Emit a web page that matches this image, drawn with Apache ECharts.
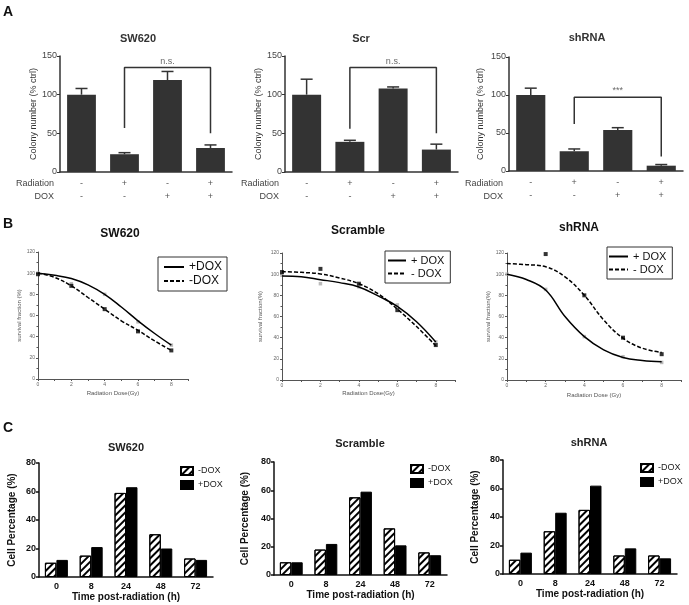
<!DOCTYPE html>
<html><head><meta charset="utf-8">
<script src="https://cdn.jsdelivr.net/npm/echarts@6/dist/echarts.min.js"></script>
<style>html,body{margin:0;padding:0;background:#fff}#c{width:689px;height:605px}</style>
</head><body><div id="c"></div>
<script>
// ---------- Panel A data ----------
const aRadiation = ['-', '+', '-', '+'];
const aDox = ['-', '-', '+', '+'];
const aSW620 = [100, 23, 119, 31];
const aSW620Upper = [108, 25, 130, 35];
const aScr = [100, 39, 108, 29];
const aScrUpper = [120, 41, 110, 36];
const aShRNA = [100, 26, 54, 7];
const aShRNAUpper = [109, 29, 57, 8.5];
// bracket: [left leg bottom, top, right leg bottom]
const aSW620Bracket = [57, 135, 50];
const aScrBracket = [56, 135, 50];
const aShRNABracket = [62, 97, 19];
const aSW620Sig = 'n.s.';
const aScrSig = 'n.s.';
const aShRNASig = '***';

// ---------- Panel B data ----------
const bDose = [0, 2, 4, 6, 8];
const bCurveDose = [0, 1, 2, 3, 4, 5, 6, 7, 8];
const bSW620PlusPts = [100, 90, 80, 54, 32];
const bSW620MinusPts = [99, 88, 66, 45, 27];
const bSW620PlusFit = [100, 98, 95, 89, 80, 68, 55, 43, 32];
const bSW620MinusFit = [100, 96, 88, 77, 66, 55, 46, 36, 27];
const bScrPlusPts = [99, 91, 88, 71, 36];
const bScrMinusPts = [102, 105, 91, 66, 33];
const bScrPlusFit = [98.3, 97.5, 94.8, 92, 87.9, 79.5, 69.5, 55, 35.9];
const bScrMinusFit = [102.3, 101.7, 100.2, 96.4, 91, 81.5, 67, 50.5, 32.4];
const bShPlusPts = [100, 85.6, 41, 22, 16.6];
const bShMinusPts = [null, 119, 80, 40, 24.4];
const bShPlusFit = [100, 95, 85, 60, 41, 28.5, 21.3, 18.5, 17.2];
const bShMinusFit = [110, 109, 107, 97.5, 80, 56.7, 39.5, 30, 26];

// ---------- Panel C data ----------
const cTimes = ['0', '8', '24', '48', '72'];
const cSW620Minus = [10, 15, 59, 30, 13];
const cSW620Plus = [12, 21, 63, 20, 12];
const cScrMinus = [9, 18, 55, 33, 16];
const cScrPlus = [9, 22, 59, 21, 14];
const cShMinus = [10, 30, 45, 13, 13];
const cShPlus = [15, 43, 62, 18, 11];

const FONT = "'Liberation Sans', Arial, sans-serif";
const grids = [], xAxes = [], yAxes = [], series = [], legends = [], graphics = [];
const nameMap = {};

function errRender(params, api) {
  const base = api.coord([api.value(0), api.value(1)]);
  const top = api.coord([api.value(0), api.value(2)]);
  const hw = 6;
  return { type: 'group', children: [
    { type: 'line', shape: { x1: base[0], y1: base[1], x2: top[0], y2: top[1] }, style: { stroke: '#333', lineWidth: 1.5 } },
    { type: 'line', shape: { x1: top[0] - hw, y1: top[1], x2: top[0] + hw, y2: top[1] }, style: { stroke: '#333', lineWidth: 1.5 } }
  ]};
}

function addA(box, vals, upper, bracket, sig, nameGap) {
  const idx = grids.length;
  grids.push({ left: box[0], top: box[1], width: box[2], height: box[3] });
  xAxes.push({ gridIndex: idx, type: 'category', data: aRadiation.map((r, i) => r + '\n' + aDox[i]),
    axisLine: { lineStyle: { color: '#333', width: 1.5 } },
    axisTick: { alignWithLabel: true, length: 3, lineStyle: { color: '#333' } },
    axisLabel: { fontSize: 9, lineHeight: 13, color: '#555', margin: 5, fontFamily: FONT } });
  yAxes.push({ gridIndex: idx, type: 'value', min: 0, max: 150, interval: 50,
    name: 'Colony number (% ctrl)', nameLocation: 'middle', nameGap: nameGap,
    nameTextStyle: { fontSize: 9, color: '#333', fontFamily: FONT },
    axisLine: { show: true, lineStyle: { color: '#333', width: 1.5 } },
    axisTick: { show: true, length: 3, lineStyle: { color: '#333' } },
    axisLabel: { fontSize: 9, color: '#444', margin: 3, fontFamily: FONT },
    splitLine: { show: false } });
  series.push({ type: 'bar', xAxisIndex: idx, yAxisIndex: idx, data: vals, barCategoryGap: '33%', itemStyle: { color: '#333' } });
  series.push({ type: 'custom', xAxisIndex: idx, yAxisIndex: idx, data: vals.map((v, i) => [i, v, upper[i]]), renderItem: errRender, z: 3 });
  series.push({ type: 'line', xAxisIndex: idx, yAxisIndex: idx, symbol: 'none',
    data: [[1, bracket[0]], [1, bracket[1]], [3, bracket[1]], [3, bracket[2]]],
    lineStyle: { color: '#333', width: 1.5 } });
  series.push({ type: 'scatter', xAxisIndex: idx, yAxisIndex: idx, data: [[2, bracket[1]]], symbolSize: 0.1,
    itemStyle: { color: 'transparent' },
    label: { show: true, position: 'top', distance: 2, formatter: sig, fontSize: 9, color: '#444', fontFamily: FONT } });
}

function addB(box, plusPts, minusPts, plusFit, minusFit, plusName, minusName, key, nameGapY, nameGapX, legendBox) {
  const idx = grids.length;
  grids.push({ left: box[0], top: box[1], width: box[2], height: box[3] });
  xAxes.push({ gridIndex: idx, type: 'value', min: 0, max: 9, interval: 1,
    name: key === 'b3' ? 'Radiation Dose (Gy)' : 'Radiation Dose(Gy)', nameLocation: 'middle', nameGap: nameGapX,
    nameTextStyle: { fontSize: 6, color: '#555', fontFamily: FONT },
    axisLine: { lineStyle: { color: '#555', width: 1 } },
    axisTick: { length: 2, lineStyle: { color: '#555' } },
    axisLabel: { fontSize: 5, color: '#666', margin: 3, fontFamily: FONT, formatter: v => (v % 2 === 0 && v < 9) ? String(v) : '' },
    splitLine: { show: false } });
  yAxes.push({ gridIndex: idx, type: 'value', min: 0, max: 120, interval: 20,
    name: key === 'b1' ? 'survival fraction (%)' : 'survival fraction(%)', nameLocation: 'middle', nameGap: nameGapY,
    nameTextStyle: { fontSize: 6, color: '#555', fontFamily: FONT },
    axisLine: { show: true, lineStyle: { color: '#555', width: 1 } },
    axisTick: { show: true, length: 2, lineStyle: { color: '#555' } },
    minorTick: { show: true, splitNumber: 2, length: 1.5, lineStyle: { color: '#555' } },
    axisLabel: { fontSize: 5, color: '#666', margin: 3, fontFamily: FONT },
    splitLine: { show: false } });
  const pN = key + 'p', mN = key + 'm';
  nameMap[pN] = plusName; nameMap[mN] = minusName;
  series.push({ type: 'line', name: pN, xAxisIndex: idx, yAxisIndex: idx, smooth: 0.4, symbol: 'none',
    data: bCurveDose.map((d, i) => [d, plusFit[i]]), lineStyle: { color: '#000', width: 1.5 }, itemStyle: { color: '#000' } });
  series.push({ type: 'line', name: mN, xAxisIndex: idx, yAxisIndex: idx, smooth: 0.4, symbol: 'none',
    data: bCurveDose.map((d, i) => [d, minusFit[i]]), lineStyle: { color: '#000', width: 1.5, type: [4, 2] }, itemStyle: { color: '#000' } });
  series.push({ type: 'scatter', xAxisIndex: idx, yAxisIndex: idx, symbol: 'rect', symbolSize: 3.5,
    data: bDose.map((d, i) => [d, plusPts[i]]).filter(p => p[1] != null), itemStyle: { color: '#aaa' } });
  series.push({ type: 'scatter', xAxisIndex: idx, yAxisIndex: idx, symbol: 'rect', symbolSize: 4,
    data: bDose.map((d, i) => [d, minusPts[i]]).filter(p => p[1] != null), itemStyle: { color: '#000' } });
  legends.push({ data: [pN, mN], orient: 'vertical', left: legendBox[0], top: legendBox[1],
    selectedMode: false, borderColor: '#333', borderWidth: 1, padding: legendBox[2],
    itemGap: 2, itemWidth: legendBox[3], itemHeight: 10,
    itemStyle: { opacity: 0 },
    formatter: n => nameMap[n], textStyle: { fontSize: legendBox[4], color: '#111', fontFamily: FONT } });
}

const hatch = { symbol: 'rect', symbolSize: 1, color: '#000', dashArrayX: [1, 0], dashArrayY: [1.3, 2.2], rotation: -Math.PI / 4 };

function addC(box, minusVals, plusVals, key, nameGapY, nameGapX, legendPos) {
  const idx = grids.length;
  grids.push({ left: box[0], top: box[1], width: box[2], height: box[3] });
  xAxes.push({ gridIndex: idx, type: 'category', data: cTimes,
    name: 'Time post-radiation (h)', nameLocation: 'middle', nameGap: nameGapX,
    nameTextStyle: { fontSize: 10, fontWeight: 'bold', color: '#111', fontFamily: FONT },
    axisLine: { lineStyle: { color: '#111', width: 1.5 } },
    axisTick: { show: false },
    axisLabel: { fontSize: 9, fontWeight: 'bold', color: '#111', margin: 5, fontFamily: FONT } });
  yAxes.push({ gridIndex: idx, type: 'value', min: 0, max: 80, interval: 20,
    name: 'Cell Percentage (%)', nameLocation: 'middle', nameGap: nameGapY,
    nameTextStyle: { fontSize: 10, fontWeight: 'bold', color: '#111', fontFamily: FONT },
    axisLine: { show: true, lineStyle: { color: '#111', width: 1.5 } },
    axisTick: { show: true, length: 3, lineStyle: { color: '#111', width: 1.5 } },
    axisLabel: { fontSize: 9, fontWeight: 'bold', color: '#111', margin: 3, fontFamily: FONT },
    splitLine: { show: false } });
  const mN = key + 'm', pN = key + 'p';
  nameMap[mN] = '-DOX'; nameMap[pN] = '+DOX';
  series.push({ type: 'bar', name: mN, xAxisIndex: idx, yAxisIndex: idx, data: minusVals, barGap: '0%', barCategoryGap: '34%',
    itemStyle: { color: '#fff', borderColor: '#000', borderWidth: 1, decal: hatch } });
  series.push({ type: 'bar', name: pN, xAxisIndex: idx, yAxisIndex: idx, data: plusVals, barGap: '0%', barCategoryGap: '34%',
    itemStyle: { color: '#000', borderColor: '#000', borderWidth: 1 } });
  legends.push({ data: [mN, pN], orient: 'vertical', left: legendPos[0], top: legendPos[1],
    selectedMode: false, padding: 0, itemGap: 4, itemWidth: 12, itemHeight: 8, icon: 'rect',
    formatter: n => nameMap[n], textStyle: { fontSize: 9, color: '#222', fontFamily: FONT } });
}

// ---- build panels ----
addA([60, 56, 172, 116], aSW620, aSW620Upper, aSW620Bracket, aSW620Sig, 22);
addA([285, 56, 173, 116], aScr, aScrUpper, aScrBracket, aScrSig, 22);
addA([509, 57, 174, 114], aShRNA, aShRNAUpper, aShRNABracket, aShRNASig, 24);

addB([38, 252, 150, 127], bSW620PlusPts, bSW620MinusPts, bSW620PlusFit, bSW620MinusFit, '+DOX', '-DOX', 'b1', 13, 11, [158, 257, [4, 5, 4, 5], 20, 12]);
addB([282, 253, 173, 127], bScrPlusPts, bScrMinusPts, bScrPlusFit, bScrMinusFit, '+ DOX', '- DOX', 'b2', 19, 10, [385, 251, [4, 6, 4, 2], 18, 11]);
addB([507, 253, 174, 127], bShPlusPts, bShMinusPts, bShPlusFit, bShMinusFit, '+ DOX', '- DOX', 'b3', 16, 12, [607, 247, [4, 6, 4, 1], 19, 11]);

addC([39, 463, 174, 114], cSW620Minus, cSW620Plus, 'c1', 22, 14, [180, 466]);
addC([274, 462, 173, 113], cScrMinus, cScrPlus, 'c2', 24, 13, [410, 464]);
addC([503, 460, 174, 114], cShMinus, cShPlus, 'c3', 23, 14, [640, 463]);

function txt(t, x, y, font, align, color) {
  graphics.push({ type: 'text', x: x, y: y, silent: true,
    style: { text: t, font: font, align: align || 'center', verticalAlign: 'middle', fill: color || '#222' } });
}
// panel letters
txt('A', 3, 12.5, 'bold 14px ' + FONT, 'left', '#111');
txt('B', 3, 224, 'bold 14px ' + FONT, 'left', '#111');
txt('C', 3, 428.5, 'bold 14px ' + FONT, 'left', '#111');
// A titles
txt('SW620', 138, 39, 'bold 11px ' + FONT, 'center', '#333');
txt('Scr', 361, 39, 'bold 11px ' + FONT, 'center', '#333');
txt('shRNA', 587, 38, 'bold 11px ' + FONT, 'center', '#333');
// A row labels
[[54], [279], [503]].forEach(([x]) => {
  txt('Radiation', x, 184, '9px ' + FONT, 'right', '#444');
  txt('DOX', x, 197, '9px ' + FONT, 'right', '#444');
});
// B titles
txt('SW620', 120, 234, 'bold 12px ' + FONT, 'center', '#111');
txt('Scramble', 358, 231, 'bold 12px ' + FONT, 'center', '#111');
txt('shRNA', 579, 228, 'bold 12px ' + FONT, 'center', '#111');
// C titles
txt('SW620', 126, 448, 'bold 11px ' + FONT, 'center', '#222');
txt('Scramble', 360, 444, 'bold 11px ' + FONT, 'center', '#222');
txt('shRNA', 589, 443, 'bold 11px ' + FONT, 'center', '#222');

const chart = echarts.init(document.getElementById('c'), null, { renderer: 'canvas' });
chart.setOption({
  animation: false,
  backgroundColor: '#fff',
  textStyle: { fontFamily: FONT },
  grid: grids, xAxis: xAxes, yAxis: yAxes, series: series, legend: legends, graphic: graphics
});
</script></body></html>
